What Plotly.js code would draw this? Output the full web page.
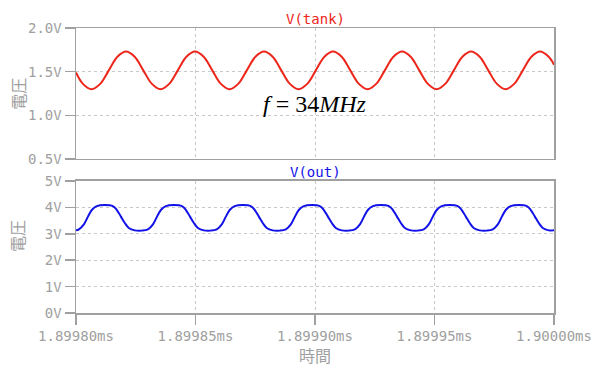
<!DOCTYPE html>
<html>
<head>
<meta charset="utf-8">
<script src="https://cdn.plot.ly/plotly-3.0.1.min.js"></script>
<style>html,body{margin:0;padding:0;background:#fff;}#chart{width:600px;height:372px;}</style>
</head>
<body>
<div id="chart"></div>
<script>
// time in ns after 1.89980 ms
const tankTime = [0, 2.89, 6.50, 10.11, 13.72, 17.33, 20.94, 24.55, 28.15, 31.76, 35.37, 38.98, 42.59, 46.20, 49.81, 53.42, 57.03, 60.64, 64.24, 67.85, 71.46, 75.07, 78.68, 82.29, 85.90, 89.51, 93.12, 96.73, 100.33, 103.94, 107.55, 111.16, 114.77, 118.38, 121.99, 125.60, 129.21, 132.82, 136.42, 140.03, 143.64, 147.25, 150.86, 154.47, 158.08, 161.69, 165.30, 168.91, 172.51, 176.12, 179.73, 183.34, 186.95, 190.56, 194.17, 197.78, 200];
const tankV = [1.49, 1.36, 1.30, 1.36, 1.515, 1.67, 1.73, 1.67, 1.515, 1.36, 1.30, 1.36, 1.515, 1.67, 1.73, 1.67, 1.515, 1.36, 1.30, 1.36, 1.515, 1.67, 1.73, 1.67, 1.515, 1.36, 1.30, 1.36, 1.515, 1.67, 1.73, 1.67, 1.515, 1.36, 1.30, 1.36, 1.515, 1.67, 1.73, 1.67, 1.515, 1.36, 1.30, 1.36, 1.515, 1.67, 1.73, 1.67, 1.515, 1.36, 1.30, 1.36, 1.515, 1.67, 1.73, 1.67, 1.58];

const outTime = [0, 1.2, 3.3, 5.0, 6.7, 8.7, 12.1, 15.4, 17.1, 18.8, 20.5, 22.1, 24.6,
  27.6, 30.1, 32.2, 33.9, 35.6, 37.6, 41.0, 44.3, 46.0, 47.7, 49.4, 51.0, 53.5,
  56.4, 58.9, 61.0, 62.7, 64.4, 66.4, 69.8, 73.1, 74.8, 76.5, 78.2, 79.8, 82.3,
  85.3, 87.8, 89.9, 91.6, 93.3, 95.3, 98.7, 102.0, 103.7, 105.4, 107.1, 108.7, 111.2,
  114.2, 116.7, 118.8, 120.5, 122.2, 124.2, 127.6, 130.9, 132.6, 134.3, 136.0, 137.6, 140.1,
  143.0, 145.5, 147.6, 149.3, 151.0, 153.0, 156.4, 159.7, 161.4, 163.1, 164.8, 166.4, 168.9,
  171.9, 174.4, 176.5, 178.2, 179.9, 181.9, 185.3, 188.6, 190.3, 192.0, 193.7, 195.3, 197.8, 200];
const outV = [3.13, 3.17, 3.36, 3.65, 3.91, 4.05, 4.09, 4.05, 3.90, 3.65, 3.40, 3.22, 3.13,
  3.12, 3.17, 3.36, 3.65, 3.91, 4.05, 4.09, 4.05, 3.90, 3.65, 3.40, 3.22, 3.13,
  3.12, 3.17, 3.36, 3.65, 3.91, 4.05, 4.09, 4.05, 3.90, 3.65, 3.40, 3.22, 3.13,
  3.12, 3.17, 3.36, 3.65, 3.91, 4.05, 4.09, 4.05, 3.90, 3.65, 3.40, 3.22, 3.13,
  3.12, 3.17, 3.36, 3.65, 3.91, 4.05, 4.09, 4.05, 3.90, 3.65, 3.40, 3.22, 3.13,
  3.12, 3.17, 3.36, 3.65, 3.91, 4.05, 4.09, 4.05, 3.90, 3.65, 3.40, 3.22, 3.13,
  3.12, 3.17, 3.36, 3.65, 3.91, 4.05, 4.09, 4.05, 3.90, 3.65, 3.40, 3.22, 3.13, 3.13];

const xTickVals = [0, 50, 100, 150, 200];
const xTickText = ["1.89980ms", "1.89985ms", "1.89990ms", "1.89995ms", "1.90000ms"];
const tankTickVals = [0.5, 1.0, 1.5, 2.0];
const tankTickText = ["0.5V", "1.0V", "1.5V", "2.0V"];
const outTickVals = [0, 1, 2, 3, 4, 5];
const outTickText = ["0V", "1V", "2V", "3V", "4V", "5V"];

const mono = "DejaVu Sans Mono, monospace";
const cjk = "Noto Sans CJK JP, sans-serif";
const grey = "#a0a0a0";
const red = "rgb(236,38,26)";
const blue = "rgb(18,18,232)";

const traces = [
  {x: tankTime, y: tankV, xaxis: "x", yaxis: "y", mode: "lines", line: {color: red, width: 2, shape: "spline", smoothing: 1}, hoverinfo: "skip"},
  {x: outTime, y: outV, xaxis: "x2", yaxis: "y2", mode: "lines", line: {color: blue, width: 2, shape: "spline", smoothing: 1}, hoverinfo: "skip"}
];

const axCommon = {showline: true, mirror: true, linecolor: grey, linewidth: 1.5,
  gridcolor: "#c8c8c8", griddash: "3px,3px", gridwidth: 1, zeroline: false,
  tickfont: {family: mono, size: 14, color: grey}, tickcolor: grey, tickwidth: 1.5};

const layout = {
  width: 600, height: 372,
  margin: {l: 76, r: 46, t: 28, b: 59},
  paper_bgcolor: "#fff", plot_bgcolor: "#fff",
  showlegend: false,
  xaxis: Object.assign({}, axCommon, {domain: [0, 1], range: [0, 200], tickvals: xTickVals, ticktext: xTickText, showticklabels: false, ticks: "", anchor: "y"}),
  yaxis: Object.assign({}, axCommon, {domain: [0.5404, 1], range: [0.5, 2.0], tickvals: tankTickVals, ticktext: tankTickText, ticks: "outside", ticklen: 10, anchor: "x"}),
  xaxis2: Object.assign({}, axCommon, {domain: [0, 1], range: [0, 200], tickvals: xTickVals, ticktext: xTickText, ticks: "outside", ticklen: 10, anchor: "y2"}),
  yaxis2: Object.assign({}, axCommon, {domain: [0, 0.4632], range: [0, 5], tickvals: outTickVals, ticktext: outTickText, ticks: "outside", ticklen: 10, anchor: "x2"}),
  annotations: [
    {text: "V(tank)", xref: "paper", yref: "paper", x: 0.5, y: 1, xanchor: "center", yanchor: "bottom", showarrow: false, font: {family: mono, size: 14, color: red}, yshift: -1},
    {text: "V(out)", xref: "paper", yref: "paper", x: 0.5, y: 0.4632, xanchor: "center", yanchor: "bottom", showarrow: false, font: {family: mono, size: 14, color: blue}, yshift: -1},
    {text: "<i>f</i> = 34<i>MHz</i>", xref: "paper", yref: "y", x: 0.5, y: 1.125, xanchor: "center", yanchor: "middle", showarrow: false, font: {family: "Liberation Serif, serif", size: 24, color: "#000"}},
    {text: "電圧", xref: "paper", yref: "paper", x: -0.123, y: 0.77, xanchor: "center", yanchor: "middle", textangle: -90, showarrow: false, font: {family: cjk, size: 16, color: grey}},
    {text: "電圧", xref: "paper", yref: "paper", x: -0.123, y: 0.271, xanchor: "center", yanchor: "middle", textangle: -90, showarrow: false, font: {family: cjk, size: 16, color: grey}},
    {text: "時間", xref: "paper", yref: "paper", x: 0.5, y: -0.147, xanchor: "center", yanchor: "middle", showarrow: false, font: {family: cjk, size: 16, color: grey}}
  ]
};

Plotly.newPlot("chart", traces, layout, {staticPlot: true, displayModeBar: false});
</script>
</body>
</html>
